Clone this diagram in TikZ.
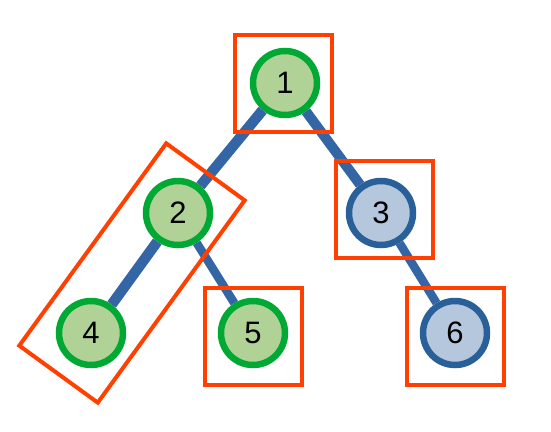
\documentclass[tikz,border=0pt]{standalone}
\usepackage{fontspec}
\setmainfont{Liberation Sans}
\usepackage{tikz}
\definecolor{gfill}{HTML}{B0D296}
\definecolor{gline}{HTML}{00A933}
\definecolor{bfill}{HTML}{B4C7DC}
\definecolor{bline}{HTML}{2A6099}
\definecolor{eline}{HTML}{3465A4}
\definecolor{rline}{HTML}{FF4000}
\tikzset{
  vert/.style={
    shape = circle,
    inner sep = 0pt,
    minimum size = 64pt,
    line width = 6.5pt,
    font = \fontsize{31}{31}\selectfont
  },
  vertG/.style={vert, draw = gline, fill = gfill},
  vertB/.style={vert, draw = bline, fill = bfill},
  tedge/.style={
    draw = eline,
    line width = #1
  },
  sel/.style={
    draw = rline,
    line width = 4pt,
    inner sep = 0pt,
    minimum size = 97pt
  }
}

\begin{document}
\begin{tikzpicture}[x=1pt, y=-1pt]
        \useasboundingbox (0,0) rectangle (551,431);
        % vertices
        \node[vertG] (n1) at (285,83) {1};
        \node[vertG] (n2) at (178,213) {2};
        \node[vertB] (n3) at (381,213) {3};
        \node[vertG] (n4) at (91,333) {4};
        \node[vertG] (n5) at (253,333) {5};
        \node[vertB] (n6) at (455,333) {6};
        % edges
        \draw[tedge=10.5pt] (n1) -- (n2);
        \draw[tedge=10pt] (n1) -- (n3);
        \draw[tedge=10.5pt] (n2) -- (n4);
        \draw[tedge=8.5pt] (n2) -- (n5);
        \draw[tedge=8.5pt] (n3) -- (n6);
        % selections
        \node[sel] (s1) at (283,83) {};
        \node[sel] (s3) at (384,209) {};
        \node[sel] (s5) at (253,336) {};
        \node[sel] (s6) at (455,336) {};
        \node[sel, minimum width=97pt, minimum height=250pt, rotate=-36] (s24) at (132,273) {};
    \end{tikzpicture}
\end{document}
